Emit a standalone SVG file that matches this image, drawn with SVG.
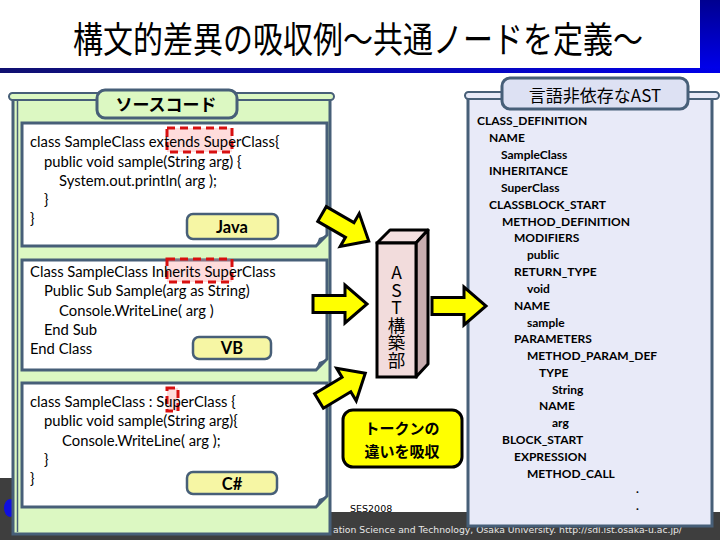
<svg xmlns="http://www.w3.org/2000/svg" xmlns:xlink="http://www.w3.org/1999/xlink" width="720" height="540" viewBox="0 0 720 540">
<defs>
<linearGradient id="gbar" x1="0" y1="0" x2="1" y2="0">
<stop offset="0" stop-color="#101070"/><stop offset="1" stop-color="#0000e8"/>
</linearGradient>
<linearGradient id="gside" x1="0" y1="0" x2="0" y2="1">
<stop offset="0" stop-color="#000090"/><stop offset="1" stop-color="#0000f0"/>
</linearGradient>
<path id="arr" d="M0,-8.5 H32 V-19 L54,0 L32,19 V8.5 H0 Z"/>
<style>
.code{font-family:Lato,"Liberation Sans",sans-serif;font-size:14.8px;fill:#000}
.ast{font-family:Lato,"Liberation Sans",sans-serif;font-size:12px;font-weight:700;fill:#000}
.box{fill:#fff;stroke:#475f78;stroke-width:3}
.fold{fill:#475f78}
.lab{fill:#f6f6a4;stroke:#475f78;stroke-width:2.5}
.labt{font-family:Lato,"Liberation Sans",sans-serif;font-size:16.5px;font-weight:700;text-anchor:middle;fill:#000}
.red{fill:#ff9a9a;fill-opacity:0.35;stroke:#d81010;stroke-width:3;stroke-dasharray:8,5}
.arrow{fill:#ffff00;stroke:#000;stroke-width:3;stroke-linejoin:miter}
.jp{font-family:"Noto Sans CJK JP",sans-serif}
</style>
</defs>
<rect width="720" height="540" fill="#fff"/>
<g id="header">
<rect x="700" y="0" width="20" height="73" fill="url(#gside)"/>
<rect x="0" y="68" width="720" height="5" fill="url(#gbar)"/>
<text class="jp" x="358" y="44.5" transform="scale(1,1.2)" font-size="30" text-anchor="middle" fill="#000">構文的差異の吸収例～共通ノードを定義～</text>
</g>
<g id="footer">
<rect x="0" y="512" width="720" height="28" fill="#3e3e3e"/>
<rect x="0" y="478" width="12" height="62" fill="#3e3e3e"/>
<ellipse cx="10" cy="508" rx="6" ry="9" fill="#1010e0"/>
<text x="333" y="533" font-family="'DejaVu Sans',sans-serif" font-size="9.5" fill="#e8e8e8" textLength="349" lengthAdjust="spacingAndGlyphs">ation Science and Technology, Osaka University.  http://sdl.ist.osaka-u.ac.jp/</text>
<text x="350" y="512" font-family="'DejaVu Sans',sans-serif" font-size="9.5" fill="#000">SES2008</text>
</g>
<g id="source-panel">
<rect x="13" y="97" width="317" height="437" fill="#dcf8c2" stroke="#475f78" stroke-width="3"/>
<line x1="17.5" y1="100" x2="17.5" y2="532" stroke="#475f78" stroke-width="1.5"/>
<rect x="9" y="93" width="325" height="7" rx="3.5" fill="#dcf8c2" stroke="#475f78" stroke-width="2"/>
<rect x="97" y="90" width="140" height="28" rx="8" fill="#dcf8c2" stroke="#475f78" stroke-width="3"/>
<text class="jp" x="166" y="111" font-size="17" font-weight="700" text-anchor="middle">ソースコード</text>
</g>
<g id="java-code">
<path class="box" d="M22,123 H327 V235 L316,246 H22 Z"/>
<path class="fold" d="M316,246 L319,238 L327,235 Z"/>
<rect class="red" x="167" y="128" width="65" height="24"/>
<text class="code" x="30" y="147">class SampleClass extends SuperClass{</text>
<text class="code" x="44" y="167">public void sample(String arg) {</text>
<text class="code" x="59" y="186">System.out.println( arg );</text>
<text class="code" x="44" y="205">}</text>
<text class="code" x="30" y="224">}</text>
<rect class="lab" x="187" y="214" width="91" height="25" rx="6"/>
<text class="labt" x="232" y="233">Java</text>
</g>
<g id="vb-code">
<path class="box" d="M22,260 H327 V359 L316,370 H22 Z"/>
<path class="fold" d="M316,370 L319,362 L327,359 Z"/>
<rect class="red" x="167" y="259" width="65" height="23"/>
<text class="code" x="30" y="277">Class SampleClass Inherits SuperClass</text>
<text class="code" x="44" y="296">Public Sub Sample(arg as String)</text>
<text class="code" x="59" y="316">Console.WriteLine( arg )</text>
<text class="code" x="44" y="335">End Sub</text>
<text class="code" x="30" y="354">End Class</text>
<rect class="lab" x="193" y="337" width="78" height="22" rx="6"/>
<text class="labt" x="232" y="354">VB</text>
</g>
<g id="cs-code">
<path class="box" d="M22,383 H327 V496 L316,507 H22 Z"/>
<path class="fold" d="M316,507 L319,499 L327,496 Z"/>
<rect class="red" x="167" y="388" width="11" height="23"/>
<text class="code" x="30" y="407">class SampleClass : SuperClass {</text>
<text class="code" x="44" y="426">public void sample(String arg){</text>
<text class="code" x="62" y="446">Console.WriteLine( arg );</text>
<text class="code" x="44" y="465">}</text>
<text class="code" x="30" y="484">}</text>
<rect class="lab" x="187" y="472" width="90" height="22" rx="6"/>
<text class="labt" x="232" y="490">C#</text>
</g>
<g id="ast-panel">
<rect x="468" y="95" width="244" height="431" fill="#e8eaf8" stroke="#475f78" stroke-width="3"/>
<rect x="465" y="92" width="254" height="7" rx="3.5" fill="#e8eaf8" stroke="#475f78" stroke-width="2"/>
<rect x="502" y="78" width="186" height="31" rx="8" fill="#dde1f3" stroke="#475f78" stroke-width="3"/>
<text class="jp" x="595" y="102" font-size="17" text-anchor="middle">言語非依存なAST</text>
<text class="ast" x="477" y="125">CLASS_DEFINITION</text>
<text class="ast" x="489" y="142">NAME</text>
<text class="ast" x="501" y="159">SampleClass</text>
<text class="ast" x="489" y="175">INHERITANCE</text>
<text class="ast" x="501" y="192">SuperClass</text>
<text class="ast" x="489" y="209">CLASSBLOCK_START</text>
<text class="ast" x="502" y="226">METHOD_DEFINITION</text>
<text class="ast" x="514" y="242">MODIFIERS</text>
<text class="ast" x="527" y="259">public</text>
<text class="ast" x="514" y="276">RETURN_TYPE</text>
<text class="ast" x="527" y="293">void</text>
<text class="ast" x="514" y="310">NAME</text>
<text class="ast" x="527" y="327">sample</text>
<text class="ast" x="514" y="343">PARAMETERS</text>
<text class="ast" x="527" y="360">METHOD_PARAM_DEF</text>
<text class="ast" x="539" y="377">TYPE</text>
<text class="ast" x="552" y="394">String</text>
<text class="ast" x="539" y="410">NAME</text>
<text class="ast" x="552" y="427">arg</text>
<text class="ast" x="502" y="444">BLOCK_START</text>
<text class="ast" x="514" y="461">EXPRESSION</text>
<text class="ast" x="527" y="478">METHOD_CALL</text>
<text class="ast" x="636" y="493">.</text>
<text class="ast" x="636" y="510">.</text>
</g>
<g id="ast-builder">
<path d="M377,243 L390,230 H428 L416,243 Z" fill="#f4e0e0" stroke="#000" stroke-width="3" stroke-linejoin="round"/>
<path d="M416,243 L428,230 V364 L416,377 Z" fill="#c8adaf" stroke="#000" stroke-width="3" stroke-linejoin="round"/>
<rect x="377" y="243" width="39" height="134" fill="#f2dcdc" stroke="#000" stroke-width="3"/>
<text class="jp" x="396.5" y="264" font-size="17.5" fill="#000" style="writing-mode:vertical-rl;text-orientation:upright">AST構築部</text>
</g>
<g id="token-note">
<rect x="343" y="410" width="119" height="57" rx="10" fill="#ffff00" stroke="#000" stroke-width="3"/>
<text class="jp" font-size="15" font-weight="700" text-anchor="middle"><tspan x="402" y="434">トークンの</tspan><tspan x="402" y="456.5">違いを吸収</tspan></text>
</g>
<g id="connectors">
<use xlink:href="#arr" class="arrow" transform="translate(322,214) rotate(30)"/>
<use xlink:href="#arr" class="arrow" transform="translate(313,304)"/>
<use xlink:href="#arr" class="arrow" transform="translate(319,401) rotate(-31)"/>
<use xlink:href="#arr" class="arrow" transform="translate(432,306)"/>
</g>
</svg>
